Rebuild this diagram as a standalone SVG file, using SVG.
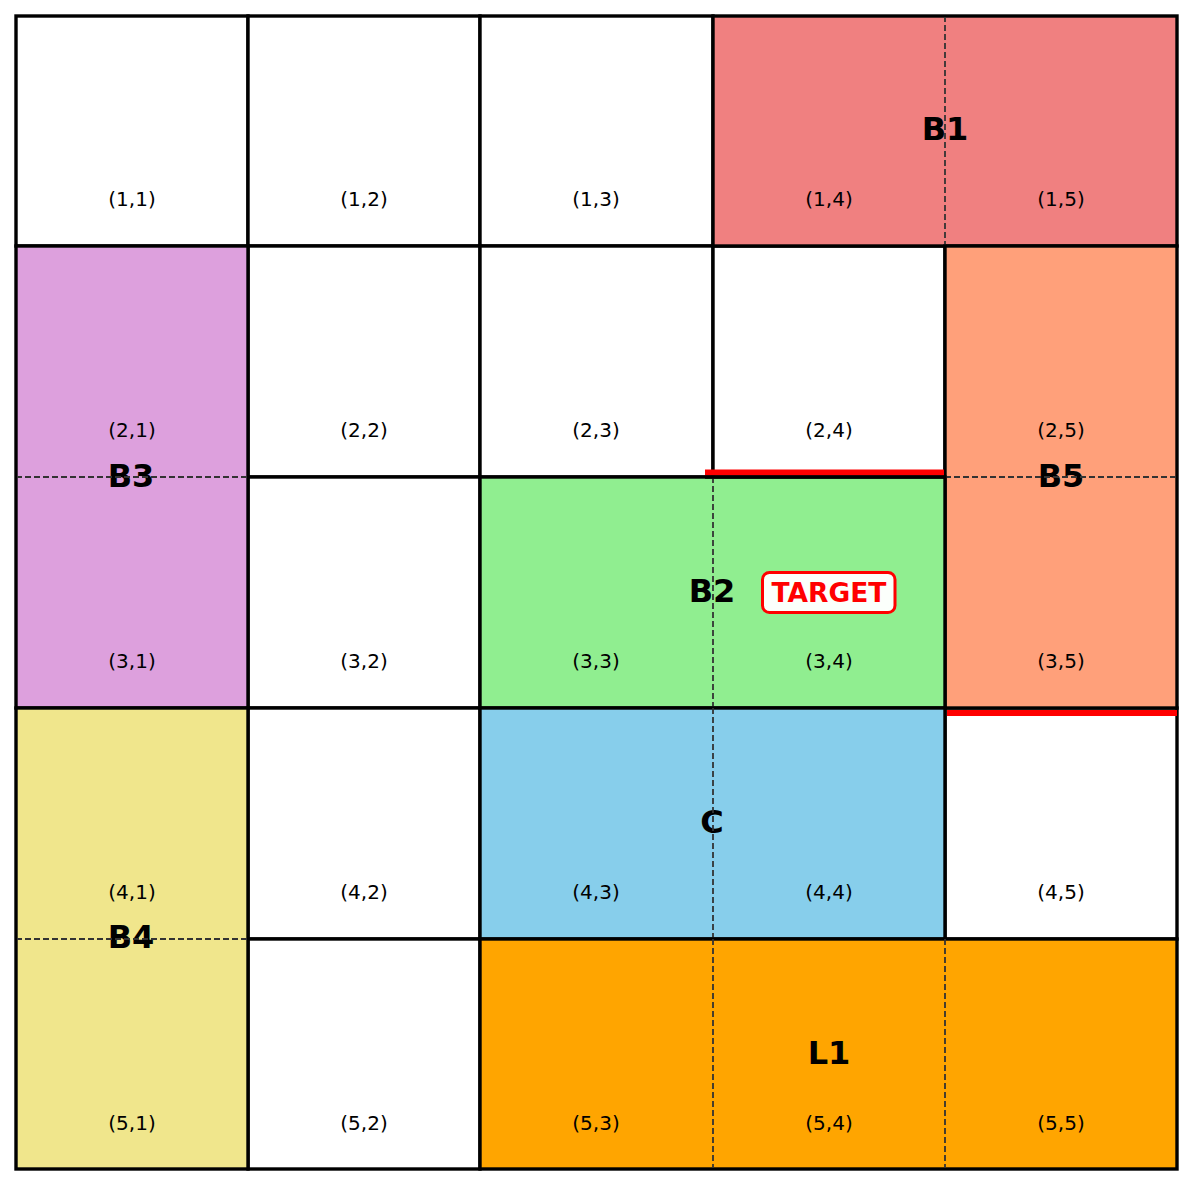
<svg xmlns="http://www.w3.org/2000/svg" width="1192" height="1185" viewBox="0 0 1192 1185">
<style>
.cell{stroke:#000;stroke-width:3.4}
.free{fill:#fff}
.co{font-family:"DejaVu Sans",sans-serif;font-size:20px;text-anchor:middle;fill:#000}
.bl{font-family:"DejaVu Sans",sans-serif;font-size:32px;font-weight:bold;text-anchor:middle;fill:#000}
.dash{stroke:#333;stroke-width:1.8;stroke-dasharray:6,3;fill:none}
.red{stroke:#ff0000;stroke-width:6;fill:none}
</style>
<rect x="0" y="0" width="1192" height="1185" fill="#fff"/>
<g id="fills">
<g id="cell-1-1"><rect class="cell free" x="16" y="16" width="232" height="230"/><text class="co" x="132" y="206">(1,1)</text></g>
<g id="cell-1-2"><rect class="cell free" x="248" y="16" width="232" height="230"/><text class="co" x="364" y="206">(1,2)</text></g>
<g id="cell-1-3"><rect class="cell free" x="480" y="16" width="233" height="230"/><text class="co" x="596" y="206">(1,3)</text></g>
<g id="cell-2-2"><rect class="cell free" x="248" y="246" width="232" height="231"/><text class="co" x="364" y="437">(2,2)</text></g>
<g id="cell-2-3"><rect class="cell free" x="480" y="246" width="233" height="231"/><text class="co" x="596" y="437">(2,3)</text></g>
<g id="cell-2-4"><rect class="cell free" x="713" y="246" width="232" height="231"/><text class="co" x="829" y="437">(2,4)</text></g>
<g id="cell-3-2"><rect class="cell free" x="248" y="477" width="232" height="231"/><text class="co" x="364" y="668">(3,2)</text></g>
<g id="cell-4-2"><rect class="cell free" x="248" y="708" width="232" height="231"/><text class="co" x="364" y="899">(4,2)</text></g>
<g id="cell-4-5"><rect class="cell free" x="945" y="708" width="232" height="231"/><text class="co" x="1061" y="899">(4,5)</text></g>
<g id="cell-5-2"><rect class="cell free" x="248" y="939" width="232" height="230"/><text class="co" x="364" y="1130">(5,2)</text></g>

<g id="B1"><rect class="cell" fill="#F08080" x="713" y="16" width="464" height="230"/>
<text class="co" x="829" y="206">(1,4)</text><text class="co" x="1061" y="206">(1,5)</text>
<text class="bl" x="945" y="140">B1</text>
<line class="dash" x1="945" y1="16" x2="945" y2="246"/></g>

<g id="B3"><rect class="cell" fill="#DDA0DD" x="16" y="246" width="232" height="462"/>
<text class="co" x="132" y="437">(2,1)</text><text class="co" x="132" y="668">(3,1)</text>
<text class="bl" x="131" y="487">B3</text>
<line class="dash" x1="16" y1="477" x2="248" y2="477"/></g>

<g id="B5"><rect class="cell" fill="#FFA07A" x="945" y="246" width="232" height="462"/>
<text class="co" x="1061" y="437">(2,5)</text><text class="co" x="1061" y="668">(3,5)</text>
<text class="bl" x="1061" y="487">B5</text>
<line class="dash" x1="945" y1="477" x2="1177" y2="477"/></g>

<g id="B2"><rect class="cell" fill="#90EE90" x="480" y="477" width="465" height="231"/>
<text class="co" x="596" y="668">(3,3)</text><text class="co" x="829" y="668">(3,4)</text>
<text class="bl" x="712" y="602">B2</text>
<line class="dash" x1="713" y1="477" x2="713" y2="708"/></g>

<g id="C"><rect class="cell" fill="#87CEEB" x="480" y="708" width="465" height="231"/>
<text class="co" x="596" y="899">(4,3)</text><text class="co" x="829" y="899">(4,4)</text>
<text class="bl" x="712" y="833">C</text>
<line class="dash" x1="713" y1="708" x2="713" y2="939"/></g>

<g id="B4"><rect class="cell" fill="#F0E68C" x="16" y="708" width="232" height="461"/>
<text class="co" x="132" y="899">(4,1)</text><text class="co" x="132" y="1130">(5,1)</text>
<text class="bl" x="131" y="948">B4</text>
<line class="dash" x1="16" y1="939" x2="248" y2="939"/></g>

<g id="L1"><rect class="cell" fill="#FFA500" x="480" y="939" width="697" height="230"/>
<text class="co" x="596" y="1130">(5,3)</text><text class="co" x="829" y="1130">(5,4)</text><text class="co" x="1061" y="1130">(5,5)</text>
<text class="bl" x="829" y="1064">L1</text>
<line class="dash" x1="713" y1="939" x2="713" y2="1169"/>
<line class="dash" x1="945" y1="939" x2="945" y2="1169"/></g>
</g>
<rect x="16" y="16" width="1161" height="1153" fill="none" stroke="#000" stroke-width="2"/>
<g id="connectors">
<line class="red" x1="705" y1="472.5" x2="944" y2="472.5"/>
<line class="red" x1="947" y1="713" x2="1177" y2="713"/>
<line x1="705" y1="477" x2="945" y2="477" stroke="#000" stroke-width="3.4"/>
</g>
<g id="target">
<rect x="762.5" y="572.5" width="132.5" height="40" rx="7" fill="#fff" fill-opacity="0.96" stroke="#ff0000" stroke-width="3"/>
<text x="829" y="601.5" font-family="DejaVu Sans, sans-serif" font-size="26.5px" font-weight="bold" fill="#ff0000" text-anchor="middle">TARGET</text>
</g>
</svg>
